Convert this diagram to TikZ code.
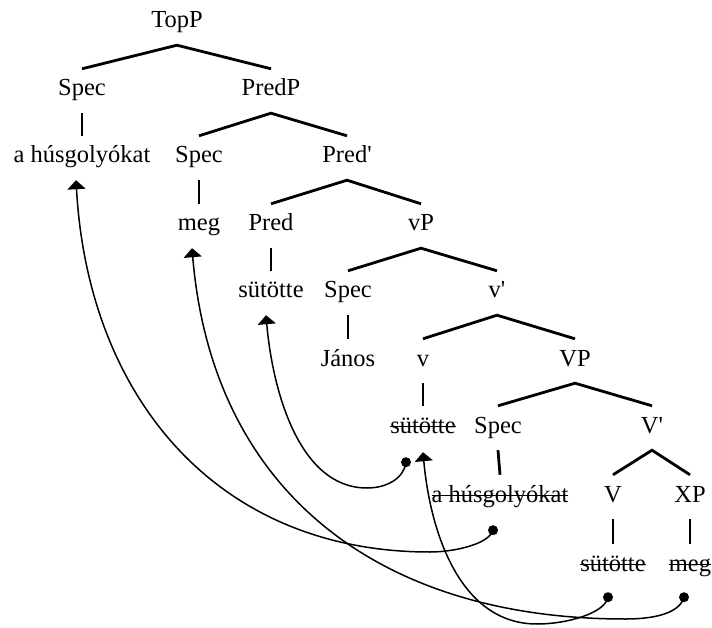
\documentclass[tikz,border=0pt]{standalone}
\usepackage{fontspec}
\setmainfont{Liberation Serif}
\usetikzlibrary{arrows.meta}
% struck-through word (trace of a moved item)
\newcommand{\strk}[1]{\setbox0\hbox{#1}\rlap{\rule[5.6pt]{\wd0}{1.8pt}}\box0}
\newcommand{\xbar}{\textquotesingle}
\begin{document}
\begin{tikzpicture}[x=1pt,y=-1pt,
  lab/.style={inner sep=0pt, text height=27pt, text depth=17pt, anchor=base,
    font=\fontsize{24.5}{28}\selectfont},
  branch/.style={line width=2.8pt},
  move/.style={line width=1.5pt, -{Triangle[width=18pt,length=9pt]}},
  trace/.style={radius=5pt}]
\useasboundingbox (0,0) rectangle (712,628);

% tree labels
\node[lab] (topp)  at (177,28)  {TopP};
\node[lab] (spec1) at (82,96)   {Spec};
\node[lab] (predp) at (271,96)  {PredP};
\node[lab] (ahus1) at (82,163)  {a húsgolyókat};
\node[lab] (spec2) at (199,163) {Spec};
\node[lab] (predb) at (347,163) {Pred\xbar};
\node[lab] (meg1)  at (199,231) {meg};
\node[lab] (pred)  at (271,231) {Pred};
\node[lab] (vp)    at (421,231) {vP};
\node[lab] (sut1)  at (271,298) {sütötte};
\node[lab] (spec3) at (348,298) {Spec};
\node[lab] (vb)    at (497,298) {v\xbar};
\node[lab] (janos) at (348,366) {János};
\node[lab] (v)     at (423,366) {v};
\node[lab] (VP)    at (575,366) {VP};
\node[lab] (sut2)  at (423,433) {\strk{sütötte}};
\node[lab] (spec4) at (498,433) {Spec};
\node[lab] (Vb)    at (652,433) {V\xbar};
\node[lab] (ahus2) at (500,502) {\strk{a húsgolyókat}};
\node[lab] (V)     at (613,502) {V};
\node[lab] (xp)    at (690,502) {XP};
\node[lab] (sut3)  at (613,571) {\strk{sütötte}};
\node[lab] (meg2)  at (690,571) {\strk{meg}};

% branches
\draw[branch] (spec1.north) -- (topp.south) -- (predp.north);
\draw[branch] (spec2.north) -- (predp.south) -- (predb.north);
\draw[branch] (pred.north) -- (predb.south) -- (vp.north);
\draw[branch] (spec3.north) -- (vp.south) -- (vb.north);
\draw[branch] (v.north) -- (vb.south) -- (VP.north);
\draw[branch] (spec4.north) -- (VP.south) -- (Vb.north);
\draw[branch] (V.north) -- (Vb.south) -- (xp.north);
\draw[branch] (spec1.south) -- (ahus1.north);
\draw[branch] (spec2.south) -- (meg1.north);
\draw[branch] (pred.south) -- (sut1.north);
\draw[branch] (spec3.south) -- (janos.north);
\draw[branch] (v.south) -- (sut2.north);
\draw[branch] (spec4.south) -- (ahus2.north);
\draw[branch] (V.south) -- (sut3.north);
\draw[branch] (xp.south) -- (meg2.north);

% trace dots and landing sites
\coordinate (dA) at ([xshift=-7pt,yshift=-11pt]ahus2.south);
\coordinate (dB) at ([xshift=-6pt,yshift=-9pt]meg2.south);
\coordinate (dC) at ([xshift=-17pt,yshift=-12pt]sut2.south);
\coordinate (dD) at ([xshift=-5pt,yshift=-9pt]sut3.south);
\coordinate (tA) at ([xshift=-6pt]ahus1.south);
\coordinate (tB) at ([xshift=-7pt]meg1.south);
\coordinate (tC) at ([xshift=-5pt]sut1.south);
\coordinate (tD) at ([yshift=-2pt]sut2.south);
\coordinate (bA) at (430,552);
\coordinate (bB) at (625,619);
\coordinate (bC) at (367,488);
\coordinate (bD) at (537,624);

% movement paths
\draw[move] (dA) .. controls +(-4,14) and +(24,0) .. (bA)
  .. controls +(-215,0) and +(12,215) .. (tA);
\draw[move] (dB) .. controls +(-4,14) and +(35,0) .. (bB)
  .. controls +(-250,0) and +(20,240) .. (tB);
\draw[move] (dC) .. controls +(-2,16) and +(20,0) .. (bC)
  .. controls +(-70,0) and +(6,70) .. (tC);
\draw[move] (dD) .. controls +(-3,16) and +(30,0) .. (bD)
  .. controls +(-78,0) and +(7,78) .. (tD);

\fill[trace] (dA) circle;
\fill[trace] (dB) circle;
\fill[trace] (dC) circle;
\fill[trace] (dD) circle;
\end{tikzpicture}
\end{document}
